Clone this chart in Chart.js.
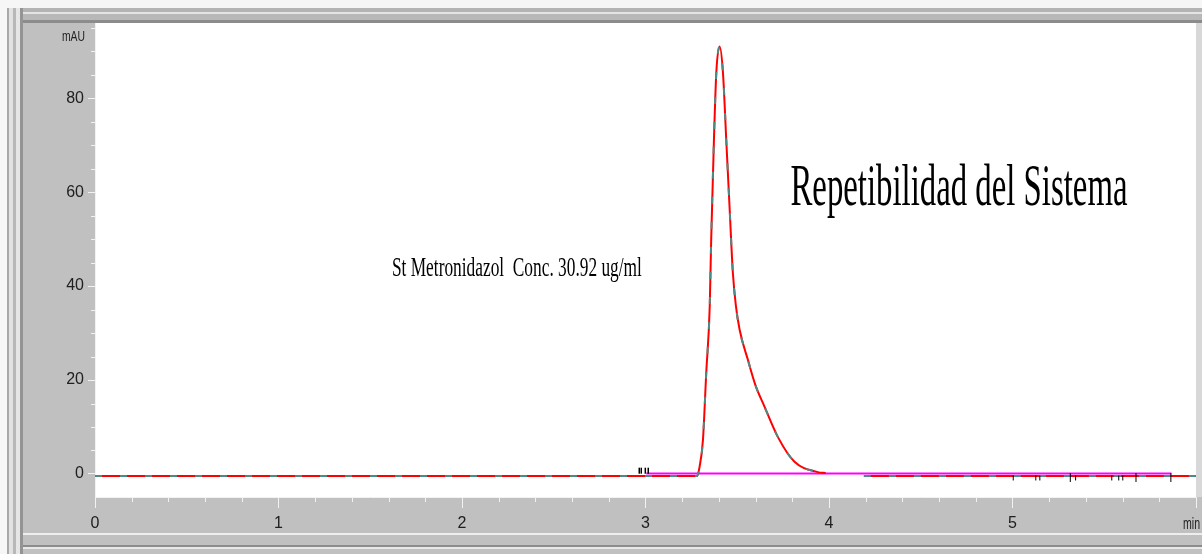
<!DOCTYPE html>
<html>
<head>
<meta charset="utf-8">
<script src="https://cdn.jsdelivr.net/npm/chart.js@4.4.0/dist/chart.umd.min.js"></script>
<style>
html,body{margin:0;padding:0;background:#c0c0c0;overflow:hidden;}
</style>
</head>
<body>
<canvas id="myChart" width="1202" height="554"></canvas>
<script>
// chromatogram (min / mAU)
var times  = [0, 3.28, 3.295, 3.313, 3.331, 3.350, 3.358, 3.373, 3.386, 3.404, 3.422, 3.440, 3.458, 3.476, 3.492, 3.513, 3.558, 3.600, 3.649, 3.721, 3.812, 3.939, 3.982, 4.09, 4.19, 6.0];
var signal = [-0.45, -0.45, 1.6, 7.2, 21.5, 35.6, 49.9, 71.2, 85.5, 91.0, 85.5, 71.2, 56.9, 42.9, 36.0, 30.7, 24.3, 18.8, 14.3, 7.9, 2.6, 0.4, 0.2, null, -0.45, -0.45];

// integration baseline (magenta)
var baseTimes  = [3.004, 5.866];
var baseValues = [0.1, 0.1];

// event marks
var marksNear3   = [2.966, 2.977, 2.999, 3.015];
var marksLow     = [5.004, 5.127, 5.149, 5.344, 5.541, 5.579, 5.601];
var marksTall    = [5.315, 5.673, 5.863];

// axes
var xTickLabels = ['0', '1', '2', '3', '4', '5'];
var yTickLabels = ['0', '20', '40', '60', '80'];

function pts(xs, ys) {
    var out = [];
    for (var i = 0; i < xs.length; i++) out.push({x: xs[i], y: ys[i]});
    return out;
}
function flat(xs, v) {
    return xs.map(function (t) { return {x: t, y: v}; });
}
function isMult(v, s) {
    return Math.abs(v / s - Math.round(v / s)) < 1e-6;
}

var TICK = '#f2f2f2';

// text drawn squeezed to a given width
function squeezeText(ctx, txt, x, y, font, w, align) {
    ctx.save();
    ctx.font = font;
    var m = ctx.measureText(txt).width;
    var k = w / m;
    ctx.translate(align === 'right' ? x - w : x, y);
    ctx.scale(k, 1);
    ctx.textAlign = 'left';
    ctx.fillText(txt, 0, 0);
    ctx.restore();
}

var framePlugin = {
    id: 'frame',
    beforeDraw: function (chart) {
        var c = chart.ctx, W = chart.width, H = chart.height, a = chart.chartArea;
        c.save();
        c.fillStyle = '#c0c0c0';
        c.fillRect(0, 0, W, H);
        c.fillStyle = '#f6f6f6';
        c.fillRect(0, 0, W, 8);
        c.fillRect(0, 0, 7, H);
        // top band
        var bands = [[8, 4, '#b4b4b4'], [12, 2, '#e4e4e4'], [14, 6, '#b8b8b8'], [20, 3, '#8c8c8c']];
        bands.forEach(function (b) { c.fillStyle = b[2]; c.fillRect(7, b[0], W - 7, b[1]); });
        // left band
        var lb = [[7, 2, '#a8a8a8'], [9, 4, '#e2e2e2'], [13, 3, '#b8b8b8'], [16, 4, '#e6e6e6'], [20, 3, '#949494']];
        lb.forEach(function (b) { c.fillStyle = b[2]; c.fillRect(b[0], 8, b[1], H - 8); });
        // bottom band
        c.fillStyle = '#eeeeee'; c.fillRect(23, 533, W - 23, 2);
        c.fillStyle = '#8c8c8c'; c.fillRect(23, 545, W - 23, 2);
        c.fillStyle = '#e8e8e8'; c.fillRect(23, 547, W - 23, 2);
        // plot area
        c.fillStyle = '#ffffff';
        c.fillRect(a.left, a.top, a.right - a.left, a.bottom - a.top);
        c.fillStyle = '#d8d8d8';
        c.fillRect(a.right, a.top, W - a.right, a.bottom - a.top);
        c.restore();
    },
    afterDraw: function (chart) {
        var c = chart.ctx, a = chart.chartArea;
        var xs = chart.scales.x, ys = chart.scales.y;
        c.save();
        // minor ticks
        c.strokeStyle = TICK;
        c.lineWidth = 1;
        xs.ticks.forEach(function (t) {
            if (isMult(t.value, 1)) return;
            var px = Math.round(xs.getPixelForValue(t.value)) + 0.5;
            c.beginPath(); c.moveTo(px, a.bottom); c.lineTo(px, a.bottom + 5); c.stroke();
        });
        ys.ticks.forEach(function (t) {
            if (isMult(t.value, 20)) return;
            var py = Math.round(ys.getPixelForValue(t.value)) + 0.5;
            c.beginPath(); c.moveTo(a.left - 4, py); c.lineTo(a.left, py); c.stroke();
        });
        // unit labels
        c.fillStyle = '#202020';
        c.textBaseline = 'alphabetic';
        squeezeText(c, 'mAU', 85, 41, '15px "Liberation Sans"', 23, 'right');
        squeezeText(c, 'min', 1200, 529, '16px "Liberation Sans"', 17, 'right');
        // annotations
        c.fillStyle = '#000000';
        squeezeText(c, 'St Metronidazol  Conc. 30.92 ug/ml',
            xs.getPixelForValue(1.618), ys.getPixelForValue(42.2), '28px "Liberation Serif"', 250, 'left');
        squeezeText(c, 'Repetibilidad del Sistema',
            xs.getPixelForValue(3.79), ys.getPixelForValue(57.3), '60px "Liberation Serif"', 337, 'left');
        c.restore();
    }
};

var ctx = document.getElementById('myChart').getContext('2d');
var myChart = new Chart(ctx, {
    type: 'line',
    data: {
        datasets: [{
            // event marks near 3 min
            data: flat(marksNear3, 0.7),
            showLine: false,
            pointStyle: 'line',
            rotation: 90,
            pointRadius: 3,
            borderColor: '#000000',
            borderWidth: 1.5
        }, {
            data: flat(marksLow, -0.85),
            showLine: false,
            pointStyle: 'line',
            rotation: 90,
            pointRadius: 2.5,
            borderColor: '#000000',
            borderWidth: 1
        }, {
            data: flat(marksTall, -0.75),
            showLine: false,
            pointStyle: 'line',
            rotation: 90,
            pointRadius: 4.5,
            borderColor: '#000000',
            borderWidth: 1
        }, {
            // overlaid trace, dashed teal
            data: pts(times, signal),
            borderColor: '#4f8a86',
            borderWidth: 2,
            borderDash: [7, 18],
            pointRadius: 0,
            cubicInterpolationMode: 'monotone',
            spanGaps: false
        }, {
            data: pts(times, signal),
            borderColor: '#ff0000',
            borderWidth: 2,
            pointRadius: 0,
            cubicInterpolationMode: 'monotone',
            spanGaps: false
        }, {
            data: pts(baseTimes, baseValues),
            borderColor: '#ff00ff',
            borderWidth: 2,
            pointRadius: 0
        }]
    },
    options: {
        responsive: false,
        animation: false,
        devicePixelRatio: 1,
        layout: {padding: {left: 0, right: 2, top: 23, bottom: 0}},
        plugins: {legend: {display: false}, tooltip: {enabled: false}},
        scales: {
            x: {
                type: 'linear',
                min: 0,
                max: 6,
                afterFit: function (s) { s.height = 57; },
                border: {color: TICK, width: 1},
                grid: {
                    drawOnChartArea: false,
                    tickLength: 11,
                    tickColor: function (c) { return c.tick && isMult(c.tick.value, 1) ? TICK : 'rgba(0,0,0,0)'; }
                },
                ticks: {
                    stepSize: 0.2,
                    autoSkip: false,
                    maxRotation: 0,
                    padding: 6,
                    color: '#202020',
                    font: {family: 'Liberation Sans', size: 16},
                    callback: function (v) {
                        return isMult(v, 1) && Math.round(v) < xTickLabels.length ? xTickLabels[Math.round(v)] : '';
                    }
                }
            },
            y: {
                min: -4.9,
                max: 96,
                afterFit: function (s) { s.width = 95; },
                border: {color: TICK, width: 1},
                grid: {
                    drawOnChartArea: false,
                    tickLength: 7,
                    tickColor: function (c) { return c.tick && isMult(c.tick.value, 20) ? TICK : 'rgba(0,0,0,0)'; }
                },
                ticks: {
                    stepSize: 5,
                    includeBounds: false,
                    autoSkip: false,
                    padding: 4,
                    color: '#202020',
                    font: {family: 'Liberation Sans', size: 16},
                    callback: function (v) {
                        return isMult(v, 20) ? yTickLabels[Math.round(v / 20)] : '';
                    }
                }
            }
        }
    },
    plugins: [framePlugin]
});
</script>
</body>
</html>
